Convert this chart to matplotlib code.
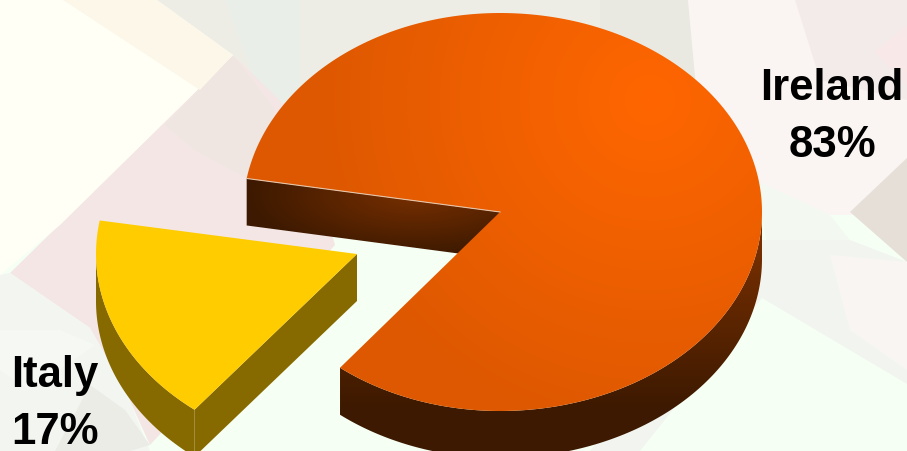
import numpy as np
import matplotlib
matplotlib.use("Agg")
import matplotlib.pyplot as plt
from matplotlib.colors import LinearSegmentedColormap
from matplotlib.patches import Polygon

labels = ["Ireland", "Italy"]
shares = [83, 17]

W, H = 907, 451
RX_RIGHT, RX_LEFT, RY = 262, 257, 199
ITALY_RX = 261
DEPTH = 47
START = 170.3

main_center = (500, 212)
italy_center = (357, 254)

# soft background panes: colour, alpha, corners
panes = [
    ("#eeede5", 1.0, [(157, 0), (690, 0), (700, 130), (300, 130), (233, 55)]),
    ("#e8e9e1", 0.8, [(600, 0), (688, 0), (700, 130), (600, 130)]),
    ("#e9efeb", 0.7, [(225, 0), (300, 0), (300, 110), (262, 100)]),
    ("#f3e6e4", 1.0, [(233, 55), (300, 120), (335, 245), (150, 445), (125, 390), (90, 328), (10, 273)]),
    ("#efe7e1", 0.8, [(233, 55), (275, 110), (250, 180), (195, 150), (165, 125)]),
    ("#fffff5", 1.0, [(0, 0), (75, 0), (233, 55), (60, 225), (0, 275)]),
    ("#fdf7ea", 1.0, [(63, 0), (157, 0), (233, 55), (200, 90)]),
    ("#faf4f2", 1.0, [(688, 0), (907, 0), (907, 215), (830, 215), (755, 180), (700, 130)]),
    ("#f3ebea", 0.9, [(795, 0), (907, 0), (907, 100), (820, 80)]),
    ("#fbe9e8", 0.7, [(907, 25), (875, 52), (907, 85)]),
    ("#f3f9f1", 1.0, [(755, 180), (830, 215), (850, 240), (770, 260)]),
    ("#e6dfd8", 1.0, [(907, 158), (850, 212), (907, 262)]),
    ("#f2f5ef", 1.0, [(762, 298), (907, 384), (907, 262), (850, 240), (760, 240), (700, 300), (590, 451), (640, 451)]),
    ("#faf6f3", 0.9, [(830, 255), (907, 262), (907, 370), (850, 330)]),
    ("#f3f5f0", 1.0, [(0, 275), (10, 273), (90, 328), (125, 390), (150, 451), (0, 451)]),
    ("#f8faf4", 0.8, [(0, 330), (60, 330), (95, 345), (30, 390), (0, 370)]),
    ("#e9ebe4", 0.9, [(90, 385), (125, 410), (150, 445), (130, 451), (55, 451)]),
]


def arc_points(center, start, end, rx_right, rx_left, n=200):
    t = np.radians(np.linspace(start, end, n))
    rx = np.where(np.cos(t) >= 0, rx_right, rx_left)
    return np.column_stack([center[0] + rx * np.cos(t), center[1] - RY * np.sin(t)])


def filled(ax, pts, img, cmap, zorder):
    im = ax.imshow(img, extent=(0, W, H, 0), cmap=cmap, vmin=0, vmax=1, aspect="auto", zorder=zorder)
    patch = Polygon(pts, closed=True, transform=ax.transData, fc="none", ec="none")
    ax.add_patch(patch)
    im.set_clip_path(patch)


fig = plt.figure(figsize=(W / 100, H / 100), dpi=100, facecolor="#f6fff4")
ax = fig.add_axes([0, 0, 1, 1])
ax.set_facecolor("#f6fff4")

for color, alpha, corners in panes:
    ax.add_patch(Polygon(corners, closed=True, fc=color, ec="none", alpha=alpha, zorder=1))

xx, yy = np.meshgrid(np.arange(W) + 0.5, np.arange(H) + 0.5)

top_cmap = LinearSegmentedColormap.from_list("top", ["#ff6600", "#dd5800"])
wall_cmap = LinearSegmentedColormap.from_list("wall", ["#3c1900", "#7a3000"])

# slice angles follow the shares
italy_span = 360.0 * shares[1] / sum(shares)
end = START + italy_span

# inner cut wall of the big slice
corner = arc_points(main_center, START, START, RX_RIGHT, RX_LEFT, 1)[0]
inner_pts = [
    corner,
    main_center,
    (main_center[0], main_center[1] + DEPTH),
    (corner[0], corner[1] + DEPTH),
]
inner_img = np.clip(1 - np.hypot((xx - 415) / 170, (yy - 195) / 62), 0, 1) * 0.95
filled(ax, inner_pts, inner_img, wall_cmap, 3)

# outer rim of the big slice
rim = arc_points(main_center, end, 360, RX_RIGHT, RX_LEFT)
rim_pts = np.vstack([rim, (rim + [0, DEPTH])[::-1]])
rim_img = np.clip((410 - yy) / 175, 0, 1)
filled(ax, rim_pts, rim_img, wall_cmap, 3)

# top of the big slice
big_arc = arc_points(main_center, end, START + 360, RX_RIGHT, RX_LEFT, 400)
big_pts = np.vstack([[main_center], big_arc])
top_img = np.clip(np.hypot(xx - 650, yy - 100) / 340, 0, 1)
filled(ax, big_pts, top_img, top_cmap, 4)
ax.plot([corner[0], main_center[0]], [corner[1], main_center[1]], color="#e8c4a8", lw=0.8, zorder=5)

# exploded slice, walls first
italy_arc = arc_points(italy_center, START, end, ITALY_RX, ITALY_RX)
front = np.array([italy_center, italy_arc[-1]])
ax.add_patch(Polygon(np.vstack([front, (front + [0, DEPTH])[::-1]]), closed=True, fc="#866a00", ec="none", zorder=6))
side = arc_points(italy_center, 180, end, ITALY_RX, ITALY_RX)
ax.add_patch(Polygon(np.vstack([side, (side + [0, DEPTH])[::-1]]), closed=True, fc="#866a00", ec="none", zorder=6))
ax.add_patch(Polygon(np.vstack([[italy_center], italy_arc]), closed=True, fc="#ffcc00", ec="none", zorder=7))

font = dict(family=["Liberation Sans", "DejaVu Sans"], fontsize=31.5, fontweight="bold", color="black", zorder=8)
ax.text(832, 100, labels[0], ha="center", va="baseline", **font)
ax.text(832, 157, f"{shares[0]}%", ha="center", va="baseline", **font)
ax.text(11, 387, labels[1], ha="left", va="baseline", **font)
ax.text(11, 444, f"{shares[1]}%", ha="left", va="baseline", **font)

ax.set_xlim(0, W)
ax.set_ylim(H, 0)
ax.axis("off")
fig.savefig("out.png", dpi=100, facecolor=fig.get_facecolor())
